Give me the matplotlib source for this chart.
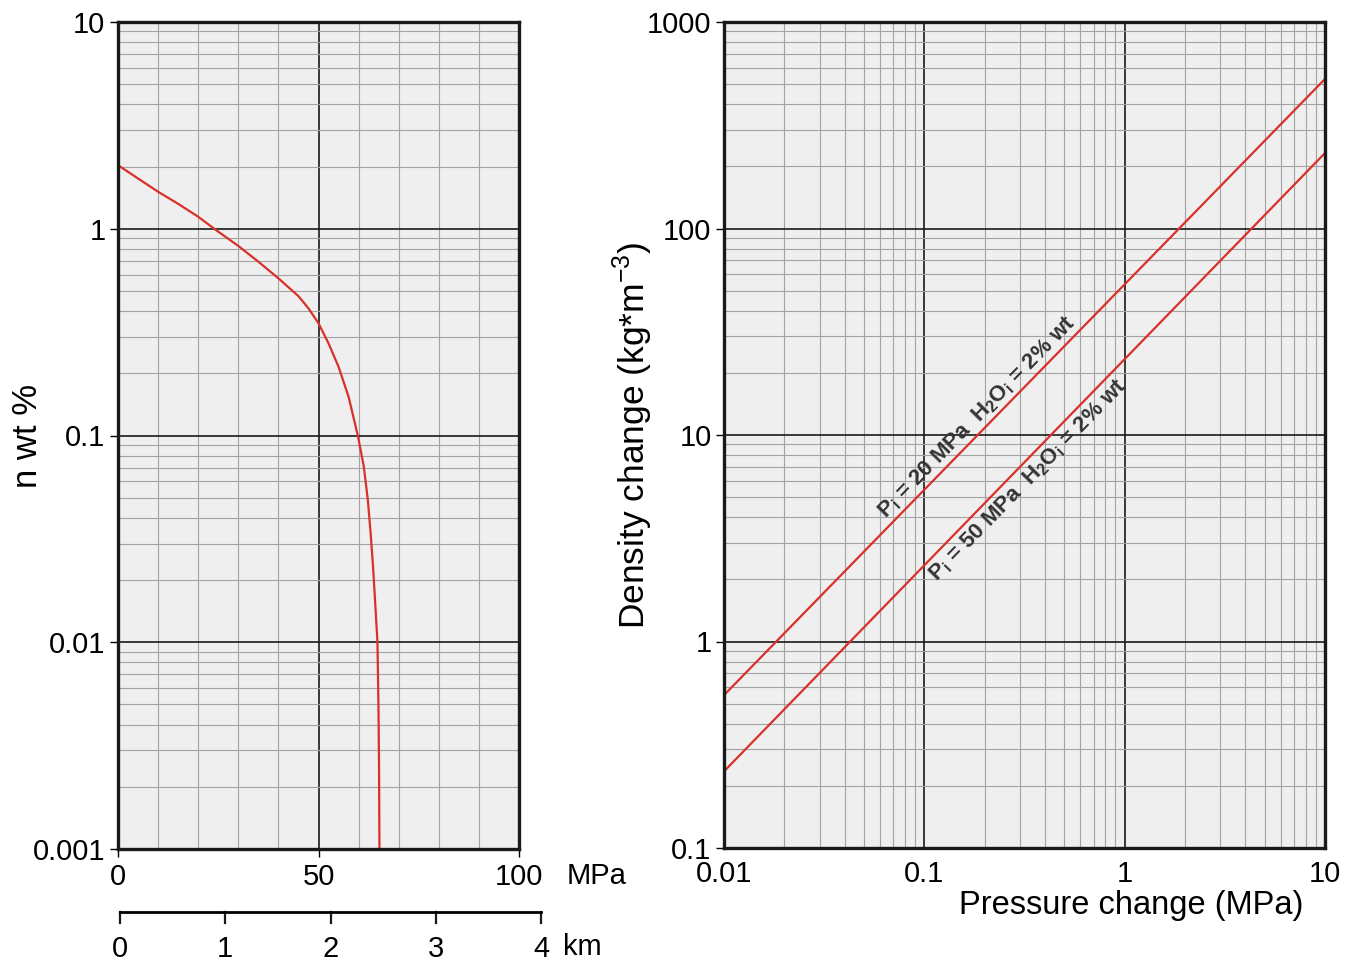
import numpy as np
import matplotlib
matplotlib.use('Agg')
import matplotlib.pyplot as plt
from matplotlib.ticker import LogLocator, MultipleLocator, NullFormatter

# left panel: water content vs pressure
pressure_mpa = [0, 5, 10, 15, 20, 24, 25, 30, 35, 40, 45, 47.5, 50, 52.5, 55,
                57.5, 59.8, 61.3, 62.3, 63.0, 63.6, 64.1, 64.7, 64.95, 65.1, 65.2]
water_wt = [2.03, 1.75, 1.51, 1.32, 1.143, 1.0, 0.968, 0.826, 0.693, 0.576,
            0.472, 0.412, 0.349, 0.279, 0.215, 0.154, 0.1, 0.0707, 0.0488,
            0.0337, 0.0232, 0.016, 0.01, 0.005, 0.0025, 0.001]
p_ticks = [0, 50, 100]
n_ticks = [0.001, 0.01, 0.1, 1, 10]
n_ticklabels = ['0.001', '0.01', '0.1', '1', '10']
depth_km = [0, 1, 2, 3, 4]

# right panel: density change vs pressure change
dp_mpa = [0.01, 10]
drho_20 = [0.55, 530]
drho_50 = [0.235, 232]
dp_ticks = [0.01, 0.1, 1, 10]
dp_ticklabels = ['0.01', '0.1', '1', '10']
drho_ticks = [0.1, 1, 10, 100, 1000]
drho_ticklabels = ['0.1', '1', '10', '100', '1000']
labels = [r'P$_\mathregular{i}$ = 20 MPa  H$_\mathregular{2}$O$_\mathregular{i}$ = 2% wt',
          r'P$_\mathregular{i}$ = 50 MPa  H$_\mathregular{2}$O$_\mathregular{i}$ = 2% wt']

plt.rcParams['font.family'] = ['Liberation Sans', 'DejaVu Sans']
plt.rcParams['mathtext.fontset'] = 'custom'
plt.rcParams['mathtext.rm'] = 'Liberation Sans'
plt.rcParams['mathtext.bf'] = 'Liberation Sans:bold'

W, H = 1359, 967
fig = plt.figure(figsize=(W / 100, H / 100), dpi=100)
red = '#d9302a'
bg = '#efefef'
ink = '#1a1a1a'


def px(x0, y0, x1, y1):
    return [x0 / W, 1 - y1 / H, (x1 - x0) / W, (y1 - y0) / H]


def style(ax):
    ax.set_facecolor(bg)
    for s in ax.spines.values():
        s.set_linewidth(2.4)
        s.set_color(ink)
    ax.grid(True, which='minor', color='#a3a3a3', lw=0.8)
    ax.grid(True, which='major', color=ink, lw=1.2)
    ax.set_axisbelow(True)
    ax.tick_params(which='major', direction='out', length=6, width=1, labelsize=21, pad=3)
    ax.tick_params(which='minor', length=0)


# ---- left panel ----
a1 = fig.add_axes(px(118, 22, 519, 849))
style(a1)
a1.set_yscale('log')
a1.set_ylim(0.001, 10)
a1.set_xlim(0, 100)
a1.set_xticks(p_ticks)
a1.xaxis.set_minor_locator(MultipleLocator(10))
a1.set_yticks(n_ticks, n_ticklabels)
a1.yaxis.set_minor_locator(LogLocator(10, subs=np.arange(2, 10)))
a1.yaxis.set_minor_formatter(NullFormatter())
a1.tick_params(axis='x', pad=4)
a1.plot(pressure_mpa, water_wt, color=red, lw=1.6)
a1.set_ylabel('n wt %', fontsize=25)
a1.yaxis.set_label_coords(-0.185, 0.5)
fig.text(567 / W, 1 - 876 / H, 'MPa', fontsize=21, ha='left', va='center')

# depth scale
a3 = fig.add_axes(px(120, 912, 541, 913))
for k, s in a3.spines.items():
    s.set_visible(k == 'top')
a3.spines['top'].set_linewidth(2)
a3.set_xlim(0, 4)
a3.set_ylim(0, 1)
a3.set_yticks([])
a3.set_facecolor('none')
a3.set_xticks(depth_km)
a3.tick_params(axis='x', length=0, labelsize=21, pad=16)
for d in depth_km:
    a3.plot([d, d], [1, -10], color=ink, lw=1.6, clip_on=False)
fig.text(563 / W, 1 - 947 / H, 'km', fontsize=21, ha='left', va='center')

# ---- right panel ----
a2 = fig.add_axes(px(724, 22, 1325, 848))
style(a2)
a2.set_xscale('log')
a2.set_yscale('log')
a2.set_xlim(0.01, 10)
a2.set_ylim(0.1, 1000)
for ax_ in (a2.xaxis, a2.yaxis):
    ax_.set_minor_locator(LogLocator(10, subs=np.arange(2, 10)))
    ax_.set_minor_formatter(NullFormatter())
a2.set_xticks(dp_ticks, dp_ticklabels)
a2.set_yticks(drho_ticks, drho_ticklabels)
a2.tick_params(axis='x', length=0, pad=9)
a2.plot(dp_mpa, drho_20, color=red, lw=1.6)
a2.plot(dp_mpa, drho_50, color=red, lw=1.6)
a2.set_ylabel(r'Density change (kg*m$^{-3}$)', fontsize=25.5)
a2.yaxis.set_label_coords(-0.115, 0.5)
a2.text(0.677, -0.07, 'Pressure change (MPa)', transform=a2.transAxes,
        fontsize=23.5, ha='center', va='center')

# slope of lines on screen for the labels
fig.canvas.draw()
p0 = a2.transData.transform((dp_mpa[0], drho_20[0]))
p1 = a2.transData.transform((dp_mpa[1], drho_20[1]))
ang = np.degrees(np.arctan2(p1[1] - p0[1], p1[0] - p0[0]))
a2.text(0.183, 12.1, labels[0], rotation=ang, rotation_mode='anchor',
        ha='center', va='center', fontsize=16, fontweight='bold', color='#333333')
a2.text(0.33, 6.0, labels[1], rotation=ang, rotation_mode='anchor',
        ha='center', va='center', fontsize=16, fontweight='bold', color='#333333')

fig.savefig('out.png', dpi=100, facecolor='white')
